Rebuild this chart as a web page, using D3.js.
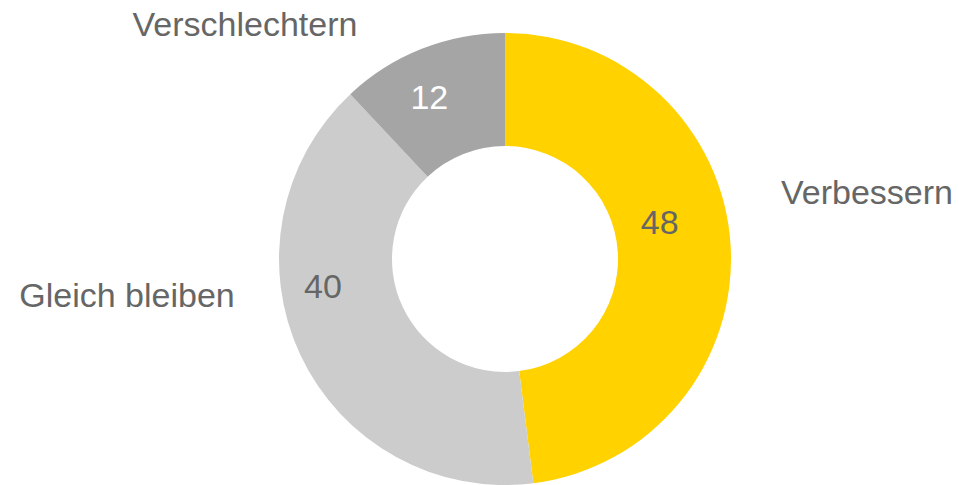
<!DOCTYPE html>
<html>
<head>
<meta charset="utf-8">
<script src="https://cdn.jsdelivr.net/npm/d3@7"></script>
<style>
  body { margin: 0; background: #fff; }
  text { font-family: "Liberation Sans", Arial, sans-serif; }
</style>
</head>
<body>
<div class="chart"></div>
<script>
// data
const categories = ["Verbessern", "Gleich bleiben", "Verschlechtern"];
const values = [48, 40, 12];
const colors = ["#FFD200", "#CCCCCC", "#A5A5A5"];
const valueColors = ["#666666", "#666666", "#FFFFFF"];

// layout
const outWidth = 959, outHeight = 485;
const cx = 505, cy = 259;
const outerR = 226, innerR = 113;
const fontSize = 34;
// value label placement: radius and angular nudge (deg) from slice middle
const valueRadius = [159, 184, 179];
const valueNudge = [-9.8, 16.8, -3.4];
// category label anchor positions (centre x, baseline y)
const catPos = [[867, 204], [127, 307], [245, 36]];

const svg = d3.select(".chart").append("svg")
    .attr("width", outWidth)
    .attr("height", outHeight);

const g = svg.append("g")
    .attr("transform", `translate(${cx}, ${cy})`);

const pie = d3.pie().sort(null).value(d => d);
const arcs = pie(values);

const arc = d3.arc()
    .innerRadius(innerR)
    .outerRadius(outerR);

g.selectAll("path")
    .data(arcs)
    .join("path")
    .attr("d", arc)
    .attr("fill", (d, i) => colors[i]);

// value labels
g.selectAll("text.val")
    .data(arcs)
    .join("text")
    .attr("class", "val")
    .attr("text-anchor", "middle")
    .attr("dy", "0.35em")
    .attr("font-size", fontSize)
    .attr("fill", (d, i) => valueColors[i])
    .attr("x", (d, i) => {
        let a = (d.startAngle + d.endAngle) / 2 + valueNudge[i] * Math.PI / 180;
        return valueRadius[i] * Math.sin(a);
    })
    .attr("y", (d, i) => {
        let a = (d.startAngle + d.endAngle) / 2 + valueNudge[i] * Math.PI / 180;
        return -valueRadius[i] * Math.cos(a);
    })
    .text(d => d.data);

// category labels
svg.selectAll("text.cat")
    .data(categories)
    .join("text")
    .attr("class", "cat")
    .attr("text-anchor", "middle")
    .attr("font-size", fontSize)
    .attr("fill", "#666666")
    .attr("x", (d, i) => catPos[i][0])
    .attr("y", (d, i) => catPos[i][1])
    .text(d => d);
</script>
</body>
</html>
